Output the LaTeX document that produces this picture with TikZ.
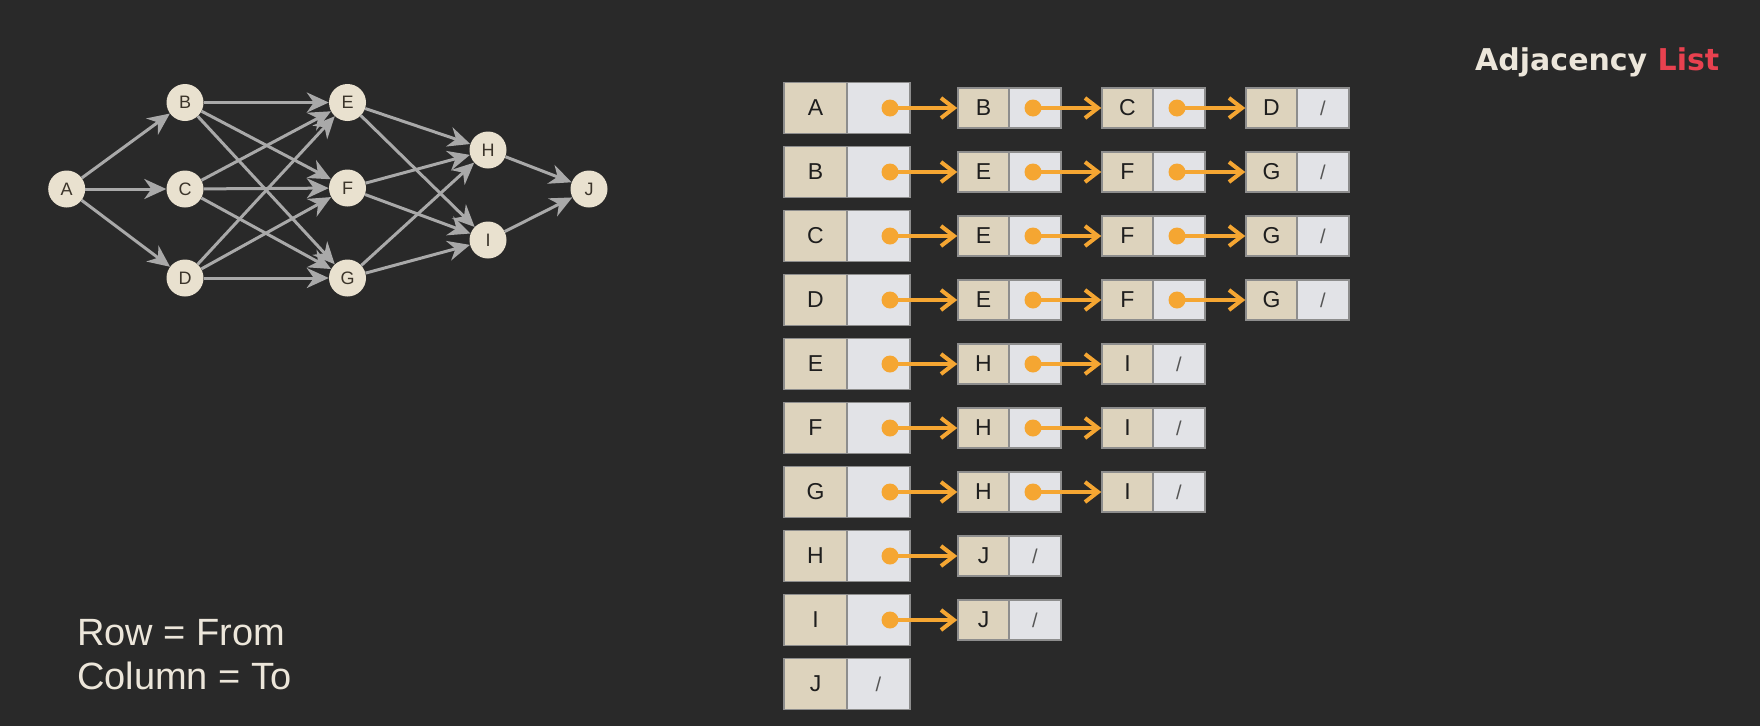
\documentclass[tikz,border=0pt]{standalone}
\usepackage{fontspec}
\setmainfont{Liberation Sans}
\newfontfamily\titlefont{DejaVu Sans}
\usetikzlibrary{arrows.meta}
\definecolor{bg}{HTML}{292929}
\definecolor{tanc}{HTML}{DDD3BD}
\definecolor{lite}{HTML}{E2E3E7}
\definecolor{bord}{HTML}{8D8D8D}
\definecolor{orng}{HTML}{F5A632}
\definecolor{edgec}{HTML}{A9A9A9}
\definecolor{gnode}{HTML}{E9E1CF}
\definecolor{gtext}{HTML}{3B342A}
\definecolor{cream}{HTML}{ECE6DA}
\definecolor{redc}{HTML}{E8414F}
\definecolor{txtc}{HTML}{1E1E1E}
\definecolor{slashc}{HTML}{555555}
\begin{document}
\begin{tikzpicture}[x=1pt,y=-1pt,
  gn/.style={circle,fill=gnode,minimum size=37pt,inner sep=0pt,text=gtext,font=\fontsize{18}{18}\selectfont},
  ge/.style={draw=edgec,line width=3pt,-{Stealth[length=22pt,width=20pt,inset=7pt]}},
  cellbase/.style={draw=bord,line width=1.5pt,inner sep=0pt,text=txtc,font=\fontsize{23}{23}\selectfont},
  headt/.style={cellbase,fill=tanc,minimum width=63pt,minimum height=51pt},
  headp/.style={cellbase,fill=lite,minimum width=63pt,minimum height=51pt},
  cellt/.style={cellbase,fill=tanc,minimum width=51pt,minimum height=40pt},
  cellp/.style={cellbase,fill=lite,minimum width=52pt,minimum height=40pt},
  dotn/.style={circle,fill=orng,minimum size=17pt,inner sep=0pt},
  oa/.style={draw=orng,line width=4pt,-{Straight Barb[length=13pt,width=20pt]}}
]
\fill[bg] (0,0) rectangle (1760,726);
\useasboundingbox (0,0) rectangle (1760,726);

% graph
\node[gn] (A) at (66.7,189) {A};
\node[gn] (B) at (185,102.5) {B};
\node[gn] (C) at (185,189) {C};
\node[gn] (D) at (185,278) {D};
\node[gn] (E) at (347.5,102.5) {E};
\node[gn] (F) at (347.5,188) {F};
\node[gn] (G) at (347.5,278) {G};
\node[gn] (H) at (488,150) {H};
\node[gn] (I) at (488,240) {I};
\node[gn] (J) at (589,189) {J};
\foreach \s/\t in {A/B,A/C,A/D,B/E,B/F,B/G,C/E,C/F,C/G,D/E,D/F,D/G,E/H,E/I,F/H,F/I,G/H,G/I,H/J,I/J}
  \draw[ge] (\s) -- (\t);

% title
\node[anchor=base west,inner sep=0pt,font=\titlefont\bfseries\fontsize{30}{30}\selectfont] (title) at (1475,70) {\textcolor{cream}{Adjacency} \textcolor{redc}{List}};

% legend
\node[anchor=base west,inner sep=0pt,text=cream,font=\fontsize{38}{38}\selectfont] (rowtxt) at (77,645) {Row = From};
\node[anchor=base west,inner sep=0pt,text=cream,font=\fontsize{38}{38}\selectfont] (coltxt) at (77,689) {Column = To};

% adjacency list
\foreach \r/\n/\lst [count=\i from 0] in {A/3/{B,C,D},B/3/{E,F,G},C/3/{E,F,G},D/3/{E,F,G},E/2/{H,I},F/2/{H,I},G/2/{H,I},H/1/{J},I/1/{J},J/0/{}} {
  \pgfmathsetmacro\yy{108+64*\i}
  \node[headt] (h\r) at (815.5,\yy) {\r};
  \ifnum\n=0
    \node[headp] (hp\r) at (878.5,\yy) {\textcolor{slashc}{\fontsize{20}{20}\selectfont /}};
  \else
    \node[headp] (hp\r) at (878.5,\yy) {};
    \node[dotn] (d\r0) at (890,\yy) {};
    \foreach \c [count=\k] in \lst {
      \pgfmathsetmacro\xl{958+144*(\k-1)}
      \pgfmathtruncatemacro\pk{\k-1}
      \node[cellt] (c\r\k) at (\xl+25.5,\yy) {\c};
      \ifnum\k=\n
        \node[cellp] (cp\r\k) at (\xl+77,\yy) {\textcolor{slashc}{\fontsize{20}{20}\selectfont /}};
      \else
        \node[cellp] (cp\r\k) at (\xl+77,\yy) {};
        \node[dotn] (d\r\k) at (\xl+75,\yy) {};
      \fi
      \draw[oa] (d\r\pk.center) -- (c\r\k.west);
    }
  \fi
}
\end{tikzpicture}
\end{document}
